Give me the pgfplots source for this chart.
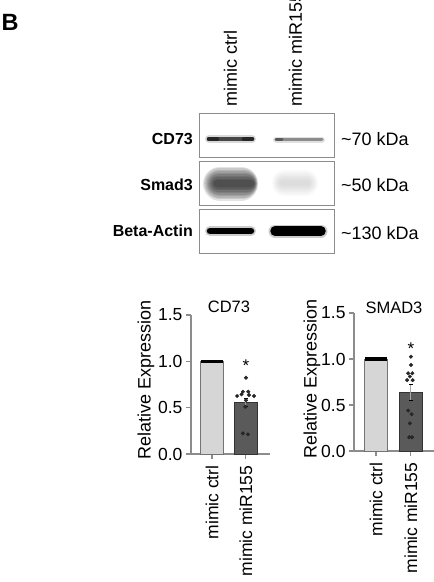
\documentclass[border=0pt]{standalone}
\usepackage{fontspec}
\setmainfont{Liberation Sans}
\usepackage{pgfplots}
\pgfplotsset{compat=1.18}
\newcommand{\fs}[1]{\fontsize{#1bp}{#1bp}\selectfont}
\definecolor{axgray}{HTML}{8C8C8C}
\definecolor{ctrlfill}{HTML}{D6D6D6}
\definecolor{mirfill}{HTML}{5A5A5A}
\pgfplotsset{
  blot/.style={scale only axis, width=135bp, height=44bp, xmin=199, xmax=334,
    y dir=reverse, xtick=\empty, ytick=\empty, anchor=north west,
    axis line style={draw=black!45, line width=0.9bp}},
  bars/.style={scale only axis, anchor=south west, axis x line=bottom, axis y line=left,
    axis line style={-, draw=axgray, line width=1.1bp},
    ymin=0, ymax=1.5, ytick={0,0.5,1,1.5}, xtick={0,1},
    xticklabels={mimic ctrl, mimic miR155},
    tick align=outside, major tick length=5bp,
    tick style={draw=axgray, line width=1.1bp},
    /pgf/number format/assume math mode=true,
    yticklabel style={font=\fs{17.5}, /pgf/number format/fixed, /pgf/number format/fixed zerofill, /pgf/number format/precision=1, /pgf/number format/assume math mode=true},
    xticklabel style={font=\fs{17.5}, rotate=90, anchor=east},
    xticklabel shift=3bp,
    clip=false},
  ctrlbar/.style={ybar, bar width=0.68, bar shift=0pt, fill=ctrlfill, draw=black!55, line width=0.8bp},
  mirbar/.style={ybar, bar width=0.68, bar shift=0pt, fill=mirfill, draw=black!80, line width=0.8bp},
  dots/.style={only marks, mark=*, mark size=1.8bp, color=black!85},
  smudge/.style={black, opacity=#1, line cap=round},
}
\begin{document}
\begin{tikzpicture}
\useasboundingbox (0,0) rectangle (434bp,-582bp);
% panel letter
\node[anchor=base west, inner sep=0, font=\fs{23.5}\bfseries] at (1.5bp,-30bp) {B};
% lane labels
\node[rotate=90, anchor=west, inner sep=0, font=\fs{18}] at (230.5bp,-107bp) {mimic ctrl};
\node[rotate=90, anchor=west, inner sep=0, font=\fs{18}] at (295.5bp,-107bp) {mimic miR155};
% row labels
\node[anchor=east, inner sep=0, font=\fs{16}\bfseries] at (193bp,-139.5bp) {CD73};
\node[anchor=east, inner sep=0, font=\fs{16}\bfseries] at (193bp,-184.5bp) {Smad3};
\node[anchor=east, inner sep=0, font=\fs{16}\bfseries] at (193bp,-231bp) {Beta-Actin};
\node[anchor=west, inner sep=0, font=\fs{18}] at (341bp,-139bp) {\textasciitilde70 kDa};
\node[anchor=west, inner sep=0, font=\fs{18}] at (341bp,-185bp) {\textasciitilde50 kDa};
\node[anchor=west, inner sep=0, font=\fs{18}] at (341bp,-233bp) {\textasciitilde130 kDa};

% CD73 panel
\begin{axis}[blot, at={(199bp,-113bp)}, ymin=113, ymax=157]
\addplot[line width=8bp, smudge=0.15] coordinates {(209,139) (252,139)};
\addplot[line width=4.5bp, black!72, line cap=round] coordinates {(209,139) (252,139)};
\addplot[line width=4.5bp, black!85, line cap=round] coordinates {(209,139) (217,139)};
\addplot[line width=4.5bp, black!85, line cap=round] coordinates {(244,139) (252,139)};
\addplot[line width=6bp, smudge=0.12] coordinates {(276,139.5) (322,139.5)};
\addplot[line width=3bp, black!45, line cap=round] coordinates {(276,139.5) (322,139.5)};
\addplot[line width=3bp, black!65, line cap=round] coordinates {(276,139.5) (282,139.5)};
\end{axis}
% Smad3 panel
\begin{axis}[blot, at={(199bp,-161bp)}, ymin=161, ymax=205]
\addplot[line width=34bp, smudge=0.11] coordinates {(220,183.5) (241,183.5)};
\addplot[line width=31bp, smudge=0.11] coordinates {(219.7,183.5) (242.1,183.5)};
\addplot[line width=28bp, smudge=0.11] coordinates {(219.4,183.5) (243.2,183.5)};
\addplot[line width=25bp, smudge=0.11] coordinates {(219.1,183.5) (244.3,183.5)};
\addplot[line width=22bp, smudge=0.11] coordinates {(218.8,183.5) (245.4,183.5)};
\addplot[line width=19bp, smudge=0.11] coordinates {(218.5,183.5) (246.5,183.5)};
\addplot[line width=16bp, smudge=0.11] coordinates {(218.2,183.5) (247.6,183.5)};
\addplot[line width=13bp, smudge=0.11] coordinates {(217.9,183.5) (248.7,183.5)};
\addplot[line width=10bp, smudge=0.11] coordinates {(217.6,183.5) (249.8,183.5)};
\addplot[line width=7bp, smudge=0.11] coordinates {(217.3,183.5) (250.9,183.5)};
\addplot[line width=26bp, smudge=0.025] coordinates {(285,183) (305,183)};
\addplot[line width=22bp, smudge=0.025] coordinates {(284.5,183) (305.5,183)};
\addplot[line width=18bp, smudge=0.025] coordinates {(284,183) (306,183)};
\addplot[line width=14bp, smudge=0.025] coordinates {(283.5,183) (306.5,183)};
\addplot[line width=10bp, smudge=0.025] coordinates {(283,183) (307,183)};
\addplot[line width=6bp, smudge=0.025] coordinates {(282.5,183) (307.5,183)};
\end{axis}
% Beta-Actin panel
\begin{axis}[blot, at={(199bp,-209bp)}, ymin=209, ymax=254]
\addplot[line width=10bp, smudge=0.2] coordinates {(210,231.5) (251,231.5)};
\addplot[line width=6.5bp, black, line cap=round] coordinates {(210,231.5) (251,231.5)};
\addplot[line width=13bp, smudge=0.2] coordinates {(275,231.5) (321,231.5)};
\addplot[line width=9.5bp, black, line cap=round] coordinates {(275,231.5) (321,231.5)};
\end{axis}

% CD73 bar chart
\begin{axis}[bars, at={(191bp,-454bp)}, width=79bp, height=139bp, xmin=-0.62, xmax=1.71]
\addplot[ctrlbar] coordinates {(0,1)};
\addplot[black, line width=3.5bp] coordinates {(-0.32,1) (0.32,1)};
\addplot[mirbar, error bars/.cd, y dir=both, y explicit, error bar style={draw=black!35, line width=0.9bp}] coordinates {(1,0.557) +- (0,0.045)};
\addplot[dots] coordinates {
(1,0.823) (0.91,0.672) (1.07,0.672) (0.74,0.626) (0.87,0.644) (1.09,0.637) (1.24,0.626)
(1,0.58) (0.98,0.51) (0.91,0.223) (1.06,0.212)};
\node[font=\fs{17}] at (axis cs:1,0.955) {*};
\end{axis}
\node[font=\fs{16.5}] at (229bp,-307bp) {CD73};
\node[rotate=90, font=\fs{18}] at (146bp,-380bp) {Relative Expression};

% SMAD3 bar chart
\begin{axis}[bars, at={(354bp,-451bp)}, width=80bp, height=138bp, xmin=-0.63, xmax=1.66]
\addplot[ctrlbar] coordinates {(0,1)};
\addplot[black, line width=3.5bp] coordinates {(-0.32,1) (0.32,1)};
\addplot[mirbar, error bars/.cd, y dir=both, y explicit, error bar style={draw=black!35, line width=0.9bp}] coordinates {(1,0.64) +- (0,0.085)};
\addplot[dots] coordinates {
(1,1.025) (1,0.935) (0.92,0.845) (1.04,0.845) (0.97,0.81) (0.89,0.77) (1.05,0.77)
(0.92,0.44) (1.02,0.40) (0.97,0.30) (0.95,0.15) (1.03,0.15)};
\node[font=\fs{17}] at (axis cs:1,1.11) {*};
\end{axis}
\node[font=\fs{16.5}] at (394bp,-307.5bp) {SMAD3};
\node[rotate=90, font=\fs{18}] at (312bp,-378.5bp) {Relative Expression};
\end{tikzpicture}
\end{document}
